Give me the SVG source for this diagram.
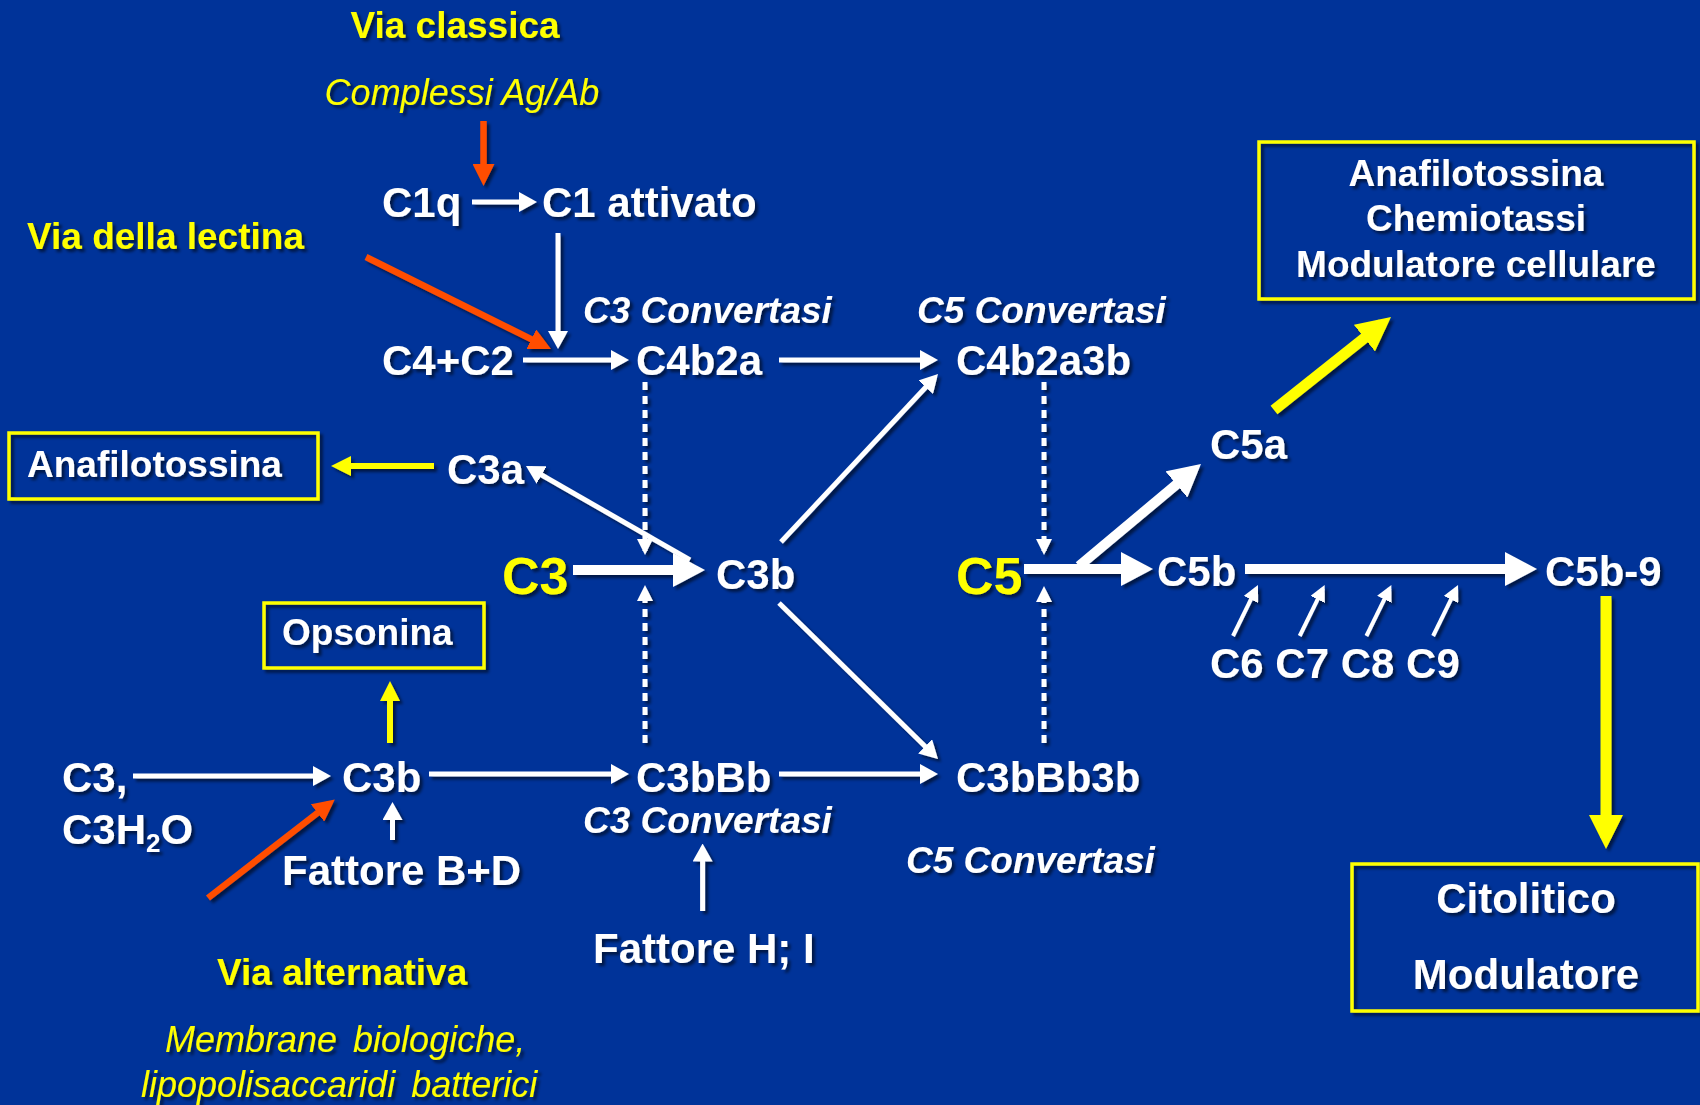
<svg xmlns="http://www.w3.org/2000/svg" width="1700" height="1105" viewBox="0 0 1700 1105">
<defs>
<style>
text{font-family:"Liberation Sans",Arial,sans-serif;}
.n{font-size:42px;font-weight:bold;fill:#fff;}
.b{font-size:37px;font-weight:bold;fill:#fff;}
.ci{font-size:37px;font-weight:bold;font-style:italic;fill:#fff;}
.y{font-size:37px;font-weight:bold;fill:#ff0;}
.yi{font-size:36px;font-style:italic;fill:#ff0;}
.big{font-size:52px;font-weight:bold;fill:#ff0;}
.mid{text-anchor:middle;}
.w{stroke:#fff;stroke-width:5;fill:none;}
.wt{stroke:#fff;stroke-width:10;fill:none;}
.ws{stroke:#fff;stroke-width:4;fill:none;}
.dot{stroke:#fff;stroke-width:5;fill:none;stroke-dasharray:8 6;}
.yl{stroke:#ff0;stroke-width:6;fill:none;}
.ylt{stroke:#ff0;stroke-width:11;fill:none;}
.or{stroke:#ff4e00;stroke-width:6.5;fill:none;}
.box{fill:none;stroke:#ff0;stroke-width:3.5;}
</style>
<filter id="sh" x="-10%" y="-10%" width="120%" height="120%">
<feDropShadow dx="3" dy="3" stdDeviation="1.5" flood-color="#000" flood-opacity="0.55"/>
</filter>
<marker id="hw" markerUnits="userSpaceOnUse" markerWidth="18" markerHeight="20" refX="13" refY="10" orient="auto"><path d="M0,0 L18,10 L0,20 z" fill="#fff"/></marker>
<marker id="hwt" markerUnits="userSpaceOnUse" markerWidth="32" markerHeight="34" refX="22" refY="17" orient="auto"><path d="M0,0 L32,17 L0,34 z" fill="#fff"/></marker>
<marker id="hws" markerUnits="userSpaceOnUse" markerWidth="16" markerHeight="16" refX="12" refY="8" orient="auto"><path d="M0,0 L16,8 L0,16 z" fill="#fff"/></marker>
<marker id="hy" markerUnits="userSpaceOnUse" markerWidth="20" markerHeight="20" refX="14" refY="10" orient="auto"><path d="M0,0 L20,10 L0,20 z" fill="#ff0"/></marker>
<marker id="hyt" markerUnits="userSpaceOnUse" markerWidth="34" markerHeight="34" refX="23" refY="17" orient="auto"><path d="M0,0 L34,17 L0,34 z" fill="#ff0"/></marker>
<marker id="ho" markerUnits="userSpaceOnUse" markerWidth="22" markerHeight="22" refX="15" refY="11" orient="auto"><path d="M0,0 L22,11 L0,22 z" fill="#ff4e00"/></marker>
</defs>
<rect width="1700" height="1105" fill="#003399"/>

<g id="connectors" filter="url(#sh)">
<line class="or" x1="483.5" y1="121" x2="483.5" y2="179" marker-end="url(#ho)"/>
<line class="w" x1="472" y1="202" x2="532" y2="202" marker-end="url(#hw)"/>
<line class="or" x1="366" y1="257" x2="544.7" y2="345.9" marker-end="url(#ho)"/>
<line class="w" x1="558" y1="233" x2="558" y2="344" marker-end="url(#hw)"/>
<line class="w" x1="523" y1="360" x2="624" y2="360" marker-end="url(#hw)"/>
<line class="w" x1="779" y1="360" x2="933" y2="360" marker-end="url(#hw)"/>
<line class="dot" x1="645" y1="382" x2="645" y2="551" marker-end="url(#hws)"/>
<line class="dot" x1="645" y1="743" x2="645" y2="589" marker-end="url(#hws)"/>
<line class="yl" x1="434" y1="466" x2="337" y2="466" marker-end="url(#hy)"/>
<line class="w" x1="690" y1="560" x2="530.3" y2="468.5" marker-end="url(#hw)"/>
<line class="wt" x1="573" y1="570" x2="695" y2="570" marker-end="url(#hwt)"/>
<line class="w" x1="781" y1="542" x2="934.6" y2="377.7" marker-end="url(#hw)"/>
<line class="w" x1="779" y1="603" x2="934.4" y2="755.5" marker-end="url(#hw)"/>
<line class="dot" x1="1044" y1="382" x2="1044" y2="551" marker-end="url(#hws)"/>
<line class="dot" x1="1044" y1="743" x2="1044" y2="590" marker-end="url(#hws)"/>
<line class="wt" x1="1024" y1="569" x2="1143" y2="569" marker-end="url(#hwt)"/>
<line class="wt" x1="1079" y1="566" x2="1193.3" y2="470.4" marker-end="url(#hwt)"/>
<line class="ylt" x1="1274" y1="410" x2="1382.4" y2="323.8" marker-end="url(#hyt)"/>
<line class="wt" x1="1245" y1="569" x2="1527" y2="569" marker-end="url(#hwt)"/>
<line class="ws" x1="1233" y1="636" x2="1256.2" y2="588.6" marker-end="url(#hws)"/>
<line class="ws" x1="1299.7" y1="636" x2="1322.9" y2="588.6" marker-end="url(#hws)"/>
<line class="ws" x1="1366.4" y1="636" x2="1389.6" y2="588.6" marker-end="url(#hws)"/>
<line class="ws" x1="1433.1" y1="636" x2="1456.3" y2="588.6" marker-end="url(#hws)"/>
<line class="ylt" x1="1606" y1="596" x2="1606" y2="838" marker-end="url(#hyt)"/>
<line class="yl" x1="390" y1="743" x2="390" y2="687" marker-end="url(#hy)"/>
<line class="w" x1="133" y1="776" x2="326" y2="776" marker-end="url(#hw)"/>
<line class="w" x1="429" y1="774" x2="624" y2="774" marker-end="url(#hw)"/>
<line class="w" x1="779" y1="774" x2="933" y2="774" marker-end="url(#hw)"/>
<line class="or" x1="208" y1="898" x2="329.3" y2="803.7" marker-end="url(#ho)"/>
<line class="w" x1="392.5" y1="840" x2="392.5" y2="807" marker-end="url(#hw)"/>
<line class="w" x1="702.6" y1="911" x2="702.6" y2="848.5" marker-end="url(#hw)"/>
</g>

<g filter="url(#sh)">
<g id="via-classica"><text class="y mid" x="455" y="38">Via classica</text></g>
<g id="complessi"><text class="yi mid" x="462" y="105">Complessi Ag/Ab</text></g>
<g id="c1q"><text class="n" x="382" y="217">C1q</text></g>
<g id="c1-attivato"><text class="n" x="542" y="217">C1 attivato</text></g>
<g id="via-lectina"><text class="y" x="27" y="249">Via della lectina</text></g>
<g id="c3-convertasi-top"><text class="ci" x="583" y="323">C3 Convertasi</text></g>
<g id="c5-convertasi-top"><text class="ci" x="917" y="323">C5 Convertasi</text></g>
<g id="c4c2"><text class="n" x="382" y="375">C4+C2</text></g>
<g id="c4b2a"><text class="n" x="636" y="375">C4b2a</text></g>
<g id="c4b2a3b"><text class="n" x="956" y="375">C4b2a3b</text></g>
<g id="anafilotossina-left"><rect class="box" x="9" y="433" width="309" height="66"/><text class="b" x="27" y="477">Anafilotossina</text></g>
<g id="c3a"><text class="n" x="447" y="484">C3a</text></g>
<g id="c3"><text class="big" x="502" y="594">C3</text></g>
<g id="c3b-mid"><text class="n" x="716" y="589">C3b</text></g>
<g id="c5"><text class="big" x="956" y="594">C5</text></g>
<g id="c5a"><text class="n" x="1210" y="459">C5a</text></g>
<g id="box-c5a"><rect class="box" x="1259" y="142" width="435" height="157"/>
<text class="b mid" x="1476" y="186">Anafilotossina</text>
<text class="b mid" x="1476" y="231">Chemiotassi</text>
<text class="b mid" x="1476" y="277">Modulatore cellulare</text></g>
<g id="c5b"><text class="n" x="1157" y="586">C5b</text></g>
<g id="c5b9"><text class="n" x="1545" y="586">C5b-9</text></g>
<g id="c6-c9"><text class="n" x="1210" y="678">C6 C7 C8 C9</text></g>
<g id="box-c5b9"><rect class="box" x="1352" y="864" width="346" height="147"/>
<text class="n mid" x="1526" y="913">Citolitico</text>
<text class="n mid" x="1526" y="989">Modulatore</text></g>
<g id="opsonina"><rect class="box" x="264" y="603" width="220" height="65"/><text class="b" x="282" y="645">Opsonina</text></g>
<g id="c3-c3h2o"><text class="n" x="62" y="792">C3,</text><text class="n" x="62" y="844">C3H<tspan font-size="26" dy="8">2</tspan><tspan dy="-8">O</tspan></text></g>
<g id="c3b-low"><text class="n" x="342" y="792">C3b</text></g>
<g id="c3bbb"><text class="n" x="636" y="792">C3bBb</text></g>
<g id="c3bbb3b"><text class="n" x="956" y="792">C3bBb3b</text></g>
<g id="fattore-bd"><text class="n" x="282" y="885">Fattore B+D</text></g>
<g id="c3-convertasi-low"><text class="ci" x="583" y="833">C3 Convertasi</text></g>
<g id="fattore-hi"><text class="n" x="593" y="963">Fattore H; I</text></g>
<g id="c5-convertasi-low"><text class="ci" x="906" y="873">C5 Convertasi</text></g>
<g id="via-alternativa"><text class="y" x="217" y="985">Via alternativa</text></g>
<g id="membrane"><text class="yi" x="165" y="1052" word-spacing="6">Membrane biologiche,</text><text class="yi" x="141" y="1097" word-spacing="6">lipopolisaccaridi batterici</text></g>
</g>
</svg>
